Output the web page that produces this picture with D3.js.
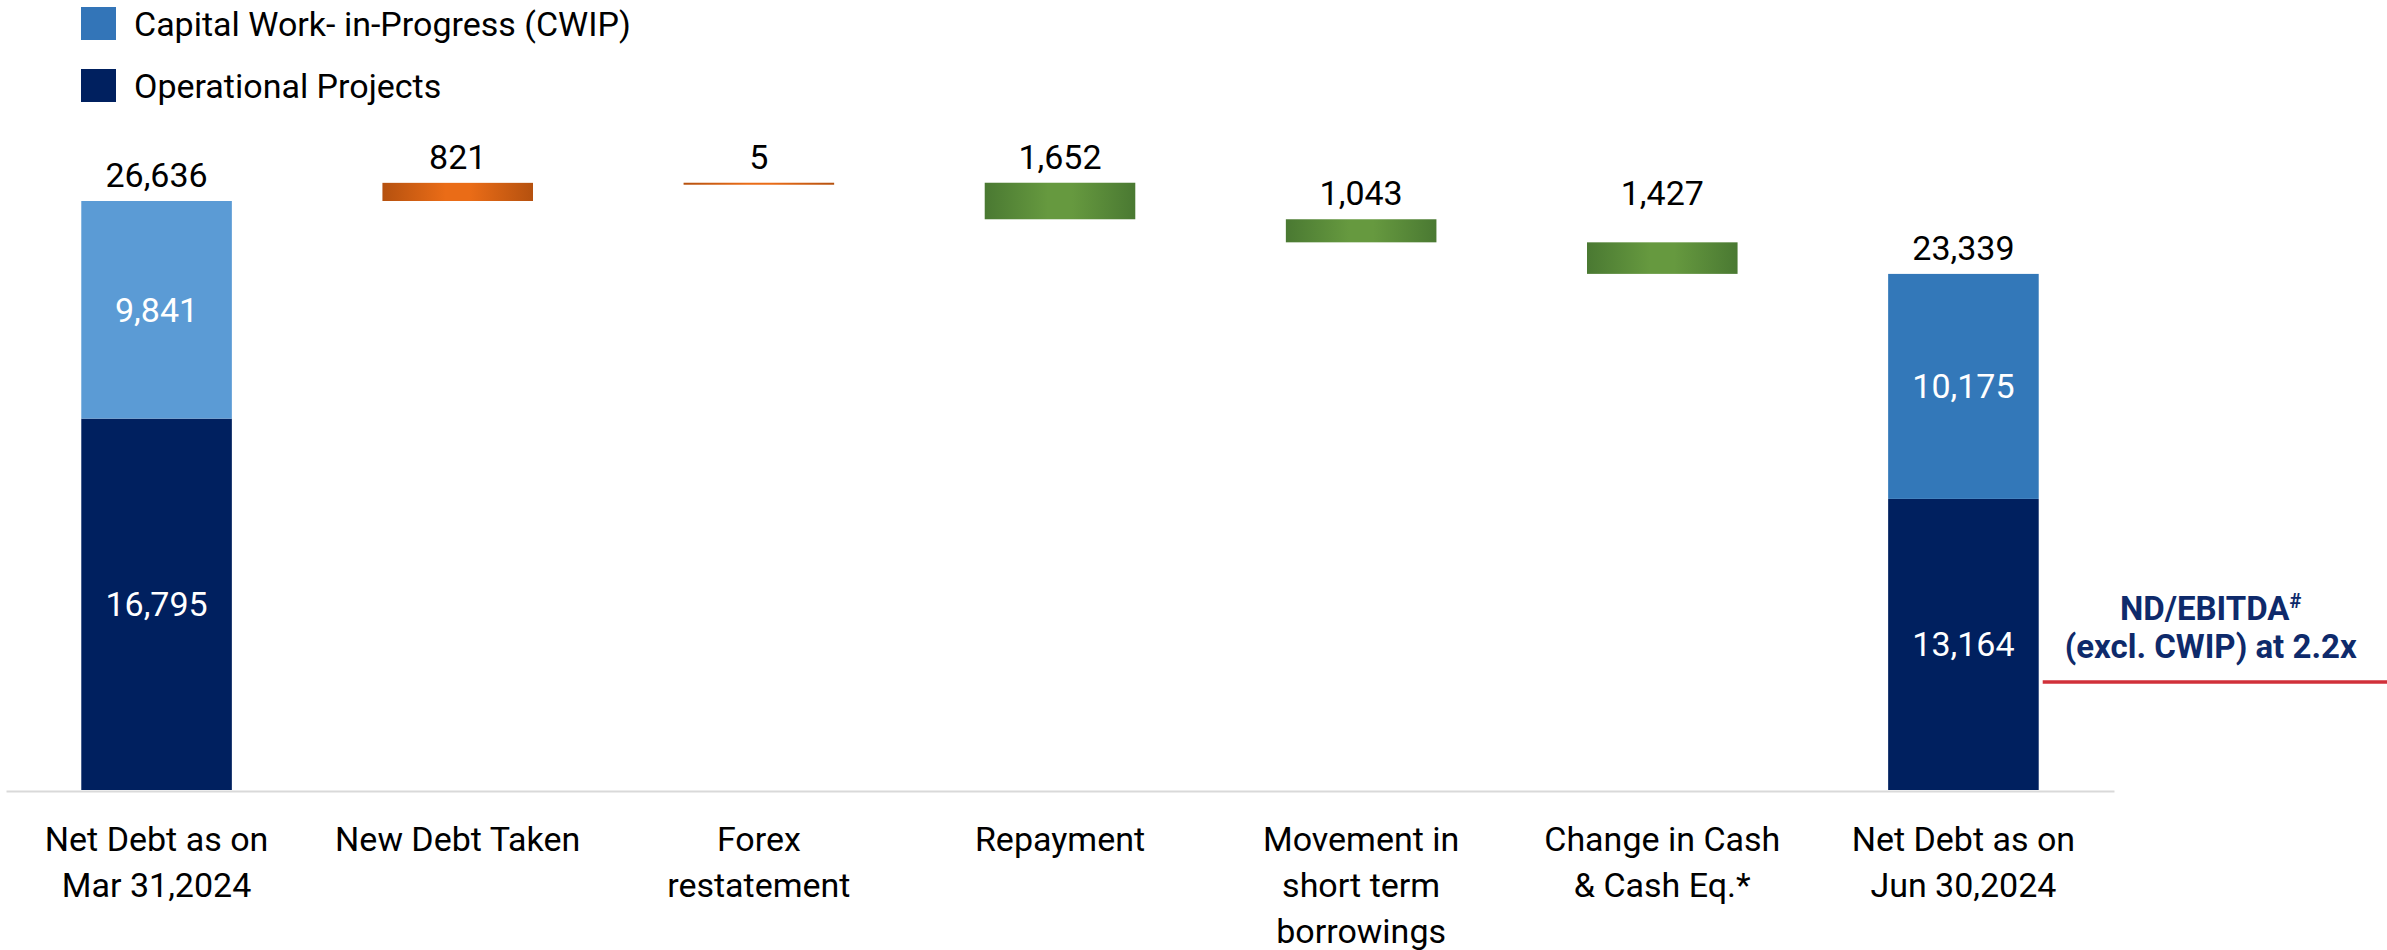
<!DOCTYPE html>
<html>
<head>
<meta charset="utf-8">
<script src="https://cdn.jsdelivr.net/npm/d3@7"></script>
<style>
  body { margin: 0; background: #fff; }
  text { font-family: Roboto, "Open Sans", sans-serif; }
</style>
</head>
<body>
<div id="chart"></div>
<script>
// categories (one entry per bar, split into label lines)
const categories = [
    ["Net Debt as on", "Mar 31,2024"],
    ["New Debt Taken"],
    ["Forex", "restatement"],
    ["Repayment"],
    ["Movement in", "short term", "borrowings"],
    ["Change in Cash", "& Cash Eq.*"],
    ["Net Debt as on", "Jun 30,2024"]
];
// stacked totals (first and last bars)
const operational = [16795, null, null, null, null, null, 13164];
const cwip = [9841, null, null, null, null, null, 10175];
// waterfall movements in between
const changes = [null, 821, 5, -1652, -1043, -1427, null];
const legendLabels = ["Capital Work- in-Progress (CWIP)", "Operational Projects"];
const noteLines = ["ND/EBITDA", "(excl. CWIP) at 2.2x"];

var width = 2387, height = 950;
var fmt = d3.format(",");

var svg = d3.select("#chart")
    .append("svg")
        .attr("width", width)
        .attr("height", height);

var defs = svg.append("defs");
function addGradient(id, edge, mid) {
    var g = defs.append("linearGradient")
        .attr("id", id)
        .attr("x1", "0%").attr("x2", "100%")
        .attr("y1", "0%").attr("y2", "0%");
    g.append("stop").attr("offset", "0%").attr("stop-color", edge);
    g.append("stop").attr("offset", "42%").attr("stop-color", mid);
    g.append("stop").attr("offset", "58%").attr("stop-color", mid);
    g.append("stop").attr("offset", "100%").attr("stop-color", edge);
}
addGradient("orangeGrad", "#b5510f", "#ea6c17");
addGradient("greenGrad", "#4a7932", "#66993f");

var xScale = d3.scaleBand()
    .domain(d3.range(categories.length))
    .range([6, 2114])
    .paddingInner(0.5)
    .paddingOuter(0.25);

var yScale = d3.scaleLinear()
    .domain([0, 30000])
    .range([790, 790 - 30000 * 589 / 26636]);

// build waterfall steps
var steps = [];
var running = 0;
for (i = 0; i < categories.length; i++) {
    if (changes[i] === null) {
        running = operational[i] + cwip[i];
        steps.push({ i: i, total: true, op: operational[i], cw: cwip[i], value: running });
    } else {
        var start = running;
        running = running + changes[i];
        steps.push({ i: i, total: false, start: start, end: running, value: Math.abs(changes[i]) });
    }
}

//Axis line
var axis = svg.append("g")
    .attr("transform", "translate(0," + 791 + ")")
    .call(d3.axisBottom(xScale).tickSize(0).tickFormat(""));
axis.select(".domain")
    .attr("stroke", "#d9d9d9")
    .attr("stroke-width", 2);

//Category labels
svg.append("g")
    .selectAll("text")
    .data(categories)
    .enter()
    .append("text")
        .attr("x", (d, i) => xScale(i) + xScale.bandwidth() / 2)
        .attr("y", 851)
        .attr("text-anchor", "middle")
        .style("font-size", "34px")
        .attr("fill", "#000")
        .each(function (d) {
            var t = d3.select(this);
            d.forEach(function (line, k) {
                t.append("tspan")
                    .attr("x", t.attr("x"))
                    .attr("dy", k === 0 ? 0 : 46)
                    .text(line);
            });
        });

var bw = xScale.bandwidth();
var labelBase = [];

steps.forEach(function (d) {
    var x0 = xScale(d.i);
    var cx = x0 + bw / 2;
    if (d.total) {
        var cwFill = d.i === 0 ? "#5b9bd5" : "#3378b9";
        svg.append("rect")
            .attr("x", x0).attr("width", bw)
            .attr("y", yScale(d.op)).attr("height", yScale(0) - yScale(d.op))
            .attr("fill", "#00205f");
        svg.append("rect")
            .attr("x", x0).attr("width", bw)
            .attr("y", yScale(d.op + d.cw)).attr("height", yScale(d.op) - yScale(d.op + d.cw))
            .attr("fill", cwFill);
        svg.append("text")
            .attr("x", cx).attr("y", (yScale(0) + yScale(d.op)) / 2 + 12)
            .attr("text-anchor", "middle").attr("fill", "#fff")
            .style("font-size", "34px").text(fmt(d.op));
        svg.append("text")
            .attr("x", cx).attr("y", (yScale(d.op) + yScale(d.op + d.cw)) / 2 + 12)
            .attr("text-anchor", "middle").attr("fill", "#fff")
            .style("font-size", "34px").text(fmt(d.cw));
        labelBase[d.i] = yScale(d.value) - 14;
    } else {
        var top = Math.max(d.start, d.end), bottom = Math.min(d.start, d.end);
        var h = Math.max(yScale(bottom) - yScale(top), 2);
        svg.append("rect")
            .attr("x", x0).attr("width", bw)
            .attr("y", yScale(top)).attr("height", h)
            .attr("fill", d.end > d.start ? "url(#orangeGrad)" : "url(#greenGrad)");
        // the cash label sits level with the one before it, as on the slide
        labelBase[d.i] = d.i === 5 ? labelBase[d.i - 1] : yScale(top) - 14;
    }
    svg.append("text")
        .attr("x", cx).attr("y", labelBase[d.i])
        .attr("text-anchor", "middle").attr("fill", "#000")
        .style("font-size", "34px").text(fmt(d.value));
});

//Legend
var legendColors = ["#3375b8", "#00205f"];
legendLabels.forEach(function (name, k) {
    svg.append("rect")
        .attr("x", 81).attr("y", 7 + k * 62)
        .attr("width", 35).attr("height", 33)
        .attr("fill", legendColors[k]);
    svg.append("text")
        .attr("x", 134).attr("y", 36 + k * 62)
        .style("font-size", "34px").attr("fill", "#000")
        .text(name);
});

//ND/EBITDA note next to the closing bar
var noteX = xScale(6) + bw + 172;
var note = svg.append("text")
    .attr("x", noteX).attr("y", 620)
    .attr("text-anchor", "middle")
    .attr("fill", "#0e2a6b")
    .style("font-size", "33px")
    .style("font-weight", "bold");
var first = note.append("tspan").text(noteLines[0]);
first.append("tspan")
    .attr("dy", -12)
    .style("font-size", "20px")
    .text("#");
note.append("tspan")
    .attr("x", noteX).attr("y", 658)
    .text(noteLines[1]);

svg.append("line")
    .attr("x1", xScale(6) + bw + 4).attr("x2", width)
    .attr("y1", 682).attr("y2", 682)
    .attr("stroke", "#d1303a")
    .attr("stroke-width", 3.5);
</script>
</body>
</html>
